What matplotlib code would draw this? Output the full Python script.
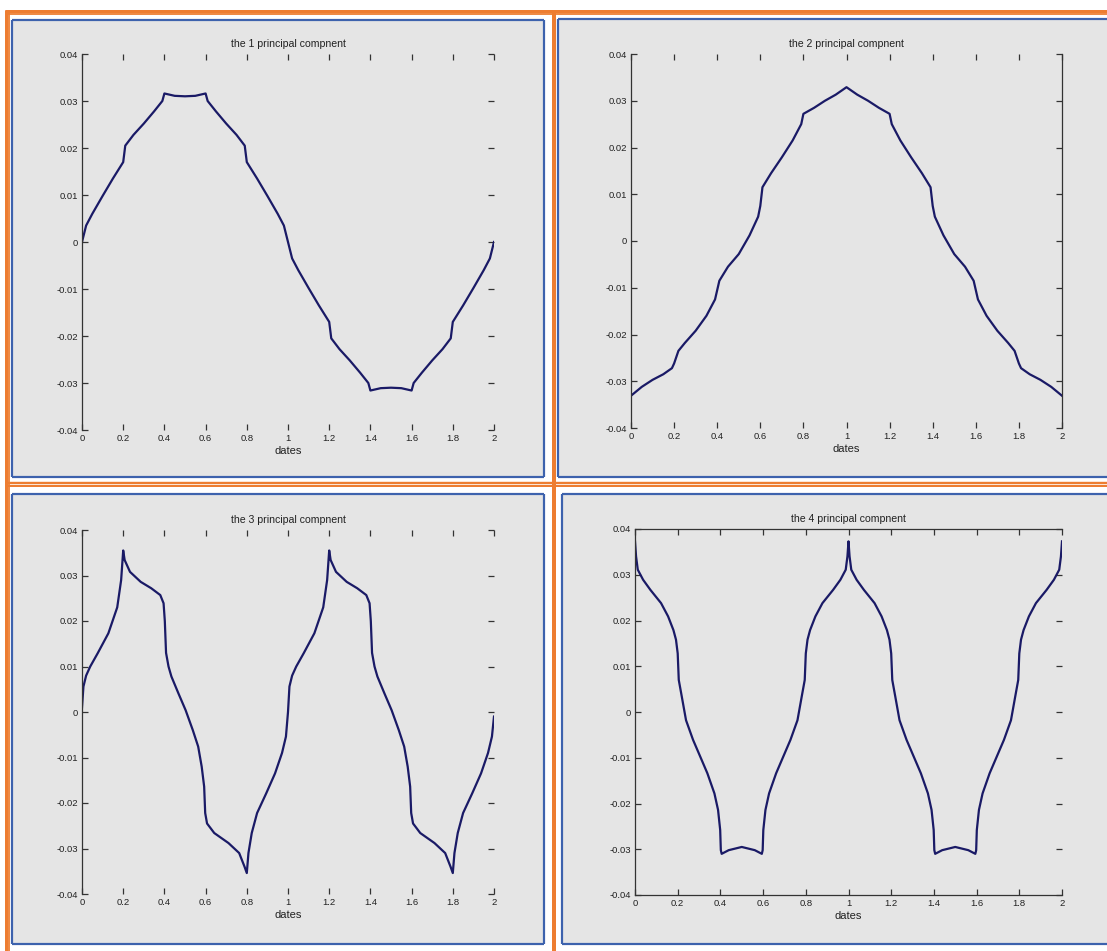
from matplotlib import pyplot, font_manager
from matplotlib.patches import Rectangle
from matplotlib.lines import Line2D
from matplotlib.transforms import IdentityTransform

WIDTH, HEIGHT = 1107, 951

# component 1
pc1_x = [0, 0.02, 0.05, 0.1, 0.15, 0.2, 0.21, 0.25, 0.3, 0.35, 0.39, 0.4, 0.45, 0.5, 0.55, 0.6,
         0.61, 0.65, 0.7, 0.75, 0.79, 0.8, 0.85, 0.9, 0.95, 0.98, 1.0, 1.02, 1.05, 1.1, 1.15, 1.2,
         1.21, 1.25, 1.3, 1.35, 1.39, 1.4, 1.45, 1.5, 1.55, 1.6, 1.61, 1.65, 1.7, 1.75, 1.79, 1.8,
         1.85, 1.9, 1.95, 1.98, 2.0]
pc1_y = [0.0, 0.0035, 0.0060, 0.0098, 0.0135, 0.0170, 0.0205, 0.0228, 0.0252, 0.0278, 0.0300,
         0.0316, 0.0311, 0.0310, 0.0311, 0.0316, 0.0300, 0.0278, 0.0252, 0.0228, 0.0205, 0.0170,
         0.0135, 0.0098, 0.0060, 0.0035, 0.0, -0.0035, -0.0060, -0.0098, -0.0135, -0.0170,
         -0.0205, -0.0228, -0.0252, -0.0278, -0.0300, -0.0316, -0.0311, -0.0310, -0.0311,
         -0.0316, -0.0300, -0.0278, -0.0252, -0.0228, -0.0205, -0.0170, -0.0135, -0.0098,
         -0.0060, -0.0035, 0.0]

# component 2
pc2_x = [0, 0.05, 0.1, 0.15, 0.19, 0.2, 0.22, 0.25, 0.3, 0.35, 0.39, 0.41, 0.45, 0.5, 0.55, 0.59,
         0.6, 0.61, 0.65, 0.7, 0.75, 0.79, 0.8, 0.85, 0.9, 0.95, 1.0, 1.05, 1.1, 1.15, 1.2, 1.21,
         1.25, 1.3, 1.35, 1.39, 1.4, 1.41, 1.45, 1.5, 1.55, 1.59, 1.61, 1.65, 1.7, 1.75, 1.78, 1.8,
         1.81, 1.85, 1.9, 1.95, 2.0]
pc2_y = [-0.0331, -0.0312, -0.0297, -0.0285, -0.0272, -0.0262, -0.0235, -0.0218, -0.0192,
         -0.0160, -0.0125, -0.0085, -0.0055, -0.0028, 0.0012, 0.0052, 0.0075, 0.0115, 0.0145,
         0.0179, 0.0215, 0.0250, 0.0272, 0.0285, 0.0300, 0.0313, 0.0329, 0.0313, 0.0300, 0.0285,
         0.0272, 0.0250, 0.0215, 0.0179, 0.0145, 0.0115, 0.0075, 0.0052, 0.0012, -0.0028,
         -0.0055, -0.0085, -0.0125, -0.0160, -0.0192, -0.0218, -0.0235, -0.0262, -0.0272,
         -0.0285, -0.0297, -0.0312, -0.0331]

# component 3
pc3_x = [0.000, 0.007, 0.020, 0.040, 0.076, 0.128, 0.171, 0.190, 0.200, 0.207, 0.233, 0.285,
         0.336, 0.380, 0.396, 0.402, 0.408, 0.420, 0.434, 0.468, 0.503, 0.538, 0.564, 0.581,
         0.593, 0.598, 0.607, 0.642, 0.711, 0.763, 0.789, 0.800, 0.808, 0.824, 0.850, 0.894,
         0.937, 0.971, 0.990, 1.000,
         1.007, 1.020, 1.040, 1.076, 1.128, 1.171, 1.190, 1.200, 1.207, 1.233, 1.285,
         1.336, 1.380, 1.396, 1.402, 1.408, 1.420, 1.434, 1.468, 1.503, 1.538, 1.564, 1.581,
         1.593, 1.598, 1.607, 1.642, 1.711, 1.763, 1.789, 1.800, 1.808, 1.824, 1.850, 1.894,
         1.937, 1.971, 1.990, 2.000]
pc3_y = [0.0010, 0.0056, 0.0080, 0.0100, 0.0129, 0.0173, 0.0230, 0.0290, 0.0355, 0.0334,
         0.0308, 0.0286, 0.0272, 0.0257, 0.0239, 0.0200, 0.0130, 0.0100, 0.0078, 0.0041,
         0.0004, -0.0040, -0.0076, -0.0120, -0.0164, -0.0222, -0.0245, -0.0266, -0.0288,
         -0.0310, -0.0340, -0.0354, -0.0310, -0.0266, -0.0222, -0.0179, -0.0135, -0.0090,
         -0.0054, 0.0000,
         0.0056, 0.0080, 0.0100, 0.0129, 0.0173, 0.0230, 0.0290, 0.0355, 0.0334,
         0.0308, 0.0286, 0.0272, 0.0257, 0.0239, 0.0200, 0.0130, 0.0100, 0.0078, 0.0041,
         0.0004, -0.0040, -0.0076, -0.0120, -0.0164, -0.0222, -0.0245, -0.0266, -0.0288,
         -0.0310, -0.0340, -0.0354, -0.0310, -0.0266, -0.0222, -0.0179, -0.0135, -0.0090,
         -0.0054, -0.0010]

# component 4
pc4_x = [0.000, 0.005, 0.013, 0.038, 0.072, 0.122, 0.155, 0.180, 0.192, 0.200, 0.205, 0.219,
         0.239, 0.272, 0.306, 0.339, 0.372, 0.389, 0.399, 0.402, 0.406, 0.439, 0.500, 0.561,
         0.594, 0.598, 0.601, 0.611, 0.628, 0.661, 0.694, 0.728, 0.761, 0.781, 0.795, 0.800,
         0.808, 0.820, 0.845, 0.878, 0.928, 0.962, 0.987, 0.995, 1.000,
         1.005, 1.013, 1.038, 1.072, 1.122, 1.155, 1.180, 1.192, 1.200, 1.205, 1.219,
         1.239, 1.272, 1.306, 1.339, 1.372, 1.389, 1.399, 1.402, 1.406, 1.439, 1.500, 1.561,
         1.594, 1.598, 1.601, 1.611, 1.628, 1.661, 1.694, 1.728, 1.761, 1.781, 1.795, 1.800,
         1.808, 1.820, 1.845, 1.878, 1.928, 1.962, 1.987, 1.995, 2.000]
pc4_y = [0.0373, 0.0340, 0.0311, 0.0289, 0.0267, 0.0238, 0.0209, 0.0179, 0.0158, 0.0128,
         0.0070, 0.0034, -0.0018, -0.0061, -0.0098, -0.0134, -0.0178, -0.0214, -0.0258,
         -0.0302, -0.0310, -0.0302, -0.0295, -0.0302, -0.0310, -0.0302, -0.0258, -0.0214,
         -0.0178, -0.0134, -0.0098, -0.0061, -0.0018, 0.0034, 0.0070, 0.0128, 0.0158, 0.0179,
         0.0209, 0.0238, 0.0267, 0.0289, 0.0311, 0.0340, 0.0373,
         0.0340, 0.0311, 0.0289, 0.0267, 0.0238, 0.0209, 0.0179, 0.0158, 0.0128,
         0.0070, 0.0034, -0.0018, -0.0061, -0.0098, -0.0134, -0.0178, -0.0214, -0.0258,
         -0.0302, -0.0310, -0.0302, -0.0295, -0.0302, -0.0310, -0.0302, -0.0258, -0.0214,
         -0.0178, -0.0134, -0.0098, -0.0061, -0.0018, 0.0034, 0.0070, 0.0128, 0.0158, 0.0179,
         0.0209, 0.0238, 0.0267, 0.0289, 0.0311, 0.0340, 0.0373]

titles = ["the 1 principal compnent", "the 2 principal compnent",
          "the 3 principal compnent", "the 4 principal compnent"]
x_label = "dates"
x_ticks = [0, 0.2, 0.4, 0.6, 0.8, 1, 1.2, 1.4, 1.6, 1.8, 2]
x_tick_labels = ["0", "0.2", "0.4", "0.6", "0.8", "1", "1.2", "1.4", "1.6", "1.8", "2"]
y_ticks = [-0.04, -0.03, -0.02, -0.01, 0, 0.01, 0.02, 0.03, 0.04]
y_tick_labels = ["-0.04", "-0.03", "-0.02", "-0.01", "0", "0.01", "0.02", "0.03", "0.04"]

ORANGE = "#ed7d31"
BLUE = "#3d62ad"
GRAY = "#e5e5e5"
CURVE = "#1a1a66"


def pick_font() -> str:
    for name in ["Liberation Sans Narrow", "Liberation Sans"]:
        try:
            font_manager.findfont(name, fallback_to_default=False)
            return name
        except ValueError:
            pass
    return "DejaVu Sans"


def hline(figure, y, x0, x1, color, width):
    figure.add_artist(Line2D([x0, x1], [HEIGHT - y, HEIGHT - y], color=color, linewidth=width * 0.72,
                             transform=IdentityTransform(), zorder=-1, solid_capstyle="butt"))


def vline(figure, x, y0, y1, color, width):
    figure.add_artist(Line2D([x, x], [HEIGHT - y0, HEIGHT - y1], color=color, linewidth=width * 0.72,
                             transform=IdentityTransform(), zorder=-1, solid_capstyle="butt"))


def panel_frame(figure, x0, y0, x1, y1, right_edge):
    figure.add_artist(Rectangle((x0, HEIGHT - y1), x1 - x0, y1 - y0, facecolor=GRAY,
                                edgecolor="none", transform=IdentityTransform(), zorder=-2))
    hline(figure, y0, x0, x1, BLUE, 2.2)
    hline(figure, y1, x0, x1, BLUE, 2.2)
    vline(figure, x0, y0, y1, BLUE, 2.2)
    if right_edge:
        vline(figure, x1, y0, y1, BLUE, 2.2)


def make_axes(figure, left, top, right, bottom):
    return figure.add_axes([left / WIDTH, 1 - bottom / HEIGHT,
                            (right - left) / WIDTH, (bottom - top) / HEIGHT])


def style_axes(axes, title, spines, font):
    axes.set_facecolor("none")
    axes.set_xlim(0, 2)
    axes.set_ylim(-0.04, 0.04)
    axes.set_xticks(x_ticks)
    axes.set_xticklabels(x_tick_labels, fontfamily=font, fontsize=6.8)
    axes.set_yticks(y_ticks)
    axes.set_yticklabels(y_tick_labels, fontfamily=font, fontsize=6.8)
    axes.tick_params(direction="in", length=4, width=0.9, color="#333333", pad=3,
                     top=True, right=True, labelcolor="#222222")
    for side in ["left", "right", "top", "bottom"]:
        axes.spines[side].set_visible(side in spines)
        axes.spines[side].set_color("#333333")
        axes.spines[side].set_linewidth(0.9)
    axes.set_title(title, fontfamily=font, fontsize=7.6, color="#222222", pad=5)
    axes.set_xlabel(x_label, fontfamily=font, fontsize=8, color="#222222", labelpad=2)


def main() -> None:
    font = pick_font()
    figure = pyplot.figure(figsize=(WIDTH / 100, HEIGHT / 100), dpi=100)
    figure.patch.set_facecolor("white")

    # orange double border and separators
    hline(figure, 11, 4.5, WIDTH, ORANGE, 3)
    hline(figure, 13.8, 7.5, WIDTH, ORANGE, 1.8)
    vline(figure, 6, 9.5, HEIGHT, ORANGE, 3)
    vline(figure, 8.6, 12.9, HEIGHT, ORANGE, 1.8)
    hline(figure, 483.2, 7.5, WIDTH, ORANGE, 2.4)
    hline(figure, 486.2, 7.5, WIDTH, ORANGE, 2)
    vline(figure, 554, 12.9, HEIGHT, ORANGE, 4)

    # blue frames with the gray plot background
    panel_frame(figure, 11.5, 19.5, 544, 477, True)
    panel_frame(figure, 557.5, 18.5, WIDTH + 5, 477, False)
    panel_frame(figure, 11.5, 494, 544, 944, True)
    panel_frame(figure, 562, 494, WIDTH + 5, 944, False)

    panels = [
        ((82, 54, 494, 430), pc1_x, pc1_y, ["left"]),
        ((631, 54, 1062, 428), pc2_x, pc2_y, ["left", "right"]),
        ((82, 530, 494, 894), pc3_x, pc3_y, ["left"]),
        ((635, 529, 1062, 895), pc4_x, pc4_y, ["left", "top", "bottom"]),
    ]
    for index, (box, x_axis, y_axis, spines) in enumerate(panels):
        axes = make_axes(figure, *box)
        style_axes(axes, titles[index], spines, font)
        axes.plot(x_axis, y_axis, color=CURVE, linewidth=1.6, solid_joinstyle="round")

    figure.savefig("out.png", dpi=100)


if __name__ == "__main__":
    main()
